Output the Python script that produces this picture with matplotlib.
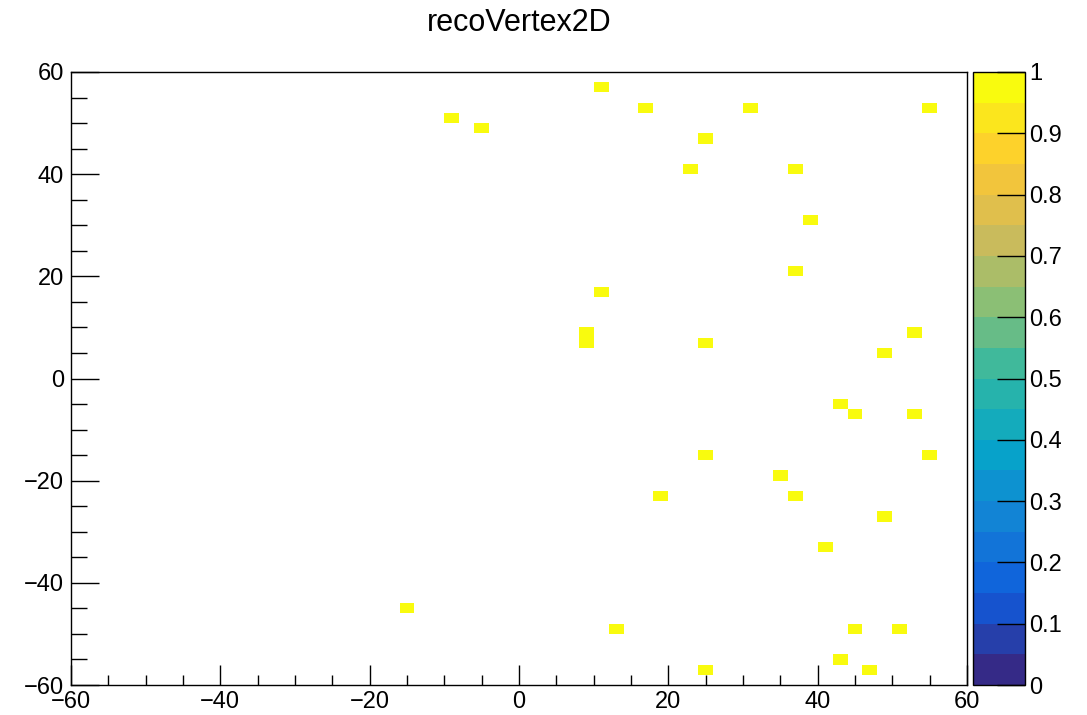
import numpy as np
import matplotlib
matplotlib.use('Agg')
import matplotlib.pyplot as plt
from matplotlib.colors import ListedColormap, Normalize, LinearSegmentedColormap

plt.rcParams['font.family'] = ['Liberation Sans', 'DejaVu Sans']

# Filled bins of the 2D histogram (bin centres), each with content 1
x_vals = [11, 17, 31, 55, -9, -5, 25, 23, 37, 39, 37, 11, 9, 9, 25, 53, 49,
          43, 45, 53, 25, 55, 35, 19, 37, 49, 41, -15, 13, 45, 51, 43, 25, 47]
y_vals = [57, 53, 53, 53, 51, 49, 47, 41, 41, 31, 21, 17, 9, 7, 7, 9, 5,
          -5, -7, -7, -15, -15, -19, -23, -23, -27, -33, -45, -49, -49, -49, -55, -57, -57]
weights = [1] * len(x_vals)

bin_edges = np.arange(-60, 61, 2)
cbar_ticks = [0, 0.1, 0.2, 0.3, 0.4, 0.5, 0.6, 0.7, 0.8, 0.9, 1]
cbar_labels = ['0', '0.1', '0.2', '0.3', '0.4', '0.5', '0.6', '0.7', '0.8', '0.9', '1']

# ROOT kBird palette
bird_r = [0.2082, 0.0592, 0.0780, 0.0232, 0.1802, 0.5301, 0.8186, 0.9956, 0.9764]
bird_g = [0.1664, 0.3599, 0.5041, 0.6419, 0.7178, 0.7492, 0.7328, 0.7862, 0.9832]
bird_b = [0.5293, 0.8684, 0.8385, 0.7914, 0.6425, 0.4662, 0.3499, 0.1968, 0.0539]
bird = LinearSegmentedColormap.from_list('bird', list(zip(bird_r, bird_g, bird_b)))
cmap = ListedColormap([bird(i / 19) for i in range(20)])

h, _, _ = np.histogram2d(x_vals, y_vals, bins=[bin_edges, bin_edges], weights=weights)
h = np.ma.masked_equal(h.T, 0)

W, H = 1087, 715
fig = plt.figure(figsize=(W / 100, H / 100), dpi=100)
ax = fig.add_axes([71 / W, 1 - 685 / H, (967 - 71) / W, (685 - 72) / H])
cax = fig.add_axes([973 / W, 1 - 685 / H, (1025 - 973) / W, (685 - 72) / H])

mesh = ax.pcolormesh(bin_edges, bin_edges, h, cmap=cmap, norm=Normalize(0, 1))
ax.set_xlim(-60, 60)
ax.set_ylim(-60, 60)
ax.set_xticks(np.arange(-60, 61, 20))
ax.set_yticks(np.arange(-60, 61, 20))
ax.set_xticks(np.arange(-60, 61, 5), minor=True)
ax.set_yticks(np.arange(-60, 61, 5), minor=True)
ax.tick_params(axis='both', which='both', direction='in', labelsize=17, width=1, color='black')
ax.tick_params(axis='x', which='major', length=14.4, pad=4)
ax.tick_params(axis='x', which='minor', length=7.2)
ax.tick_params(axis='y', which='major', length=20, pad=5)
ax.tick_params(axis='y', which='minor', length=11.5)
for s in ax.spines.values():
    s.set_linewidth(1.0)
fig.text(519 / W, 1 - 23 / H, 'recoVertex2D', fontsize=22, ha='center', va='center')

cb = fig.colorbar(mesh, cax=cax)
cb.set_ticks(cbar_ticks)
cb.set_ticklabels(cbar_labels)
cb.outline.set_linewidth(1.0)
cax.tick_params(direction='in', length=20, width=1, labelsize=17, pad=3)

fig.savefig('out.png', dpi=100)
